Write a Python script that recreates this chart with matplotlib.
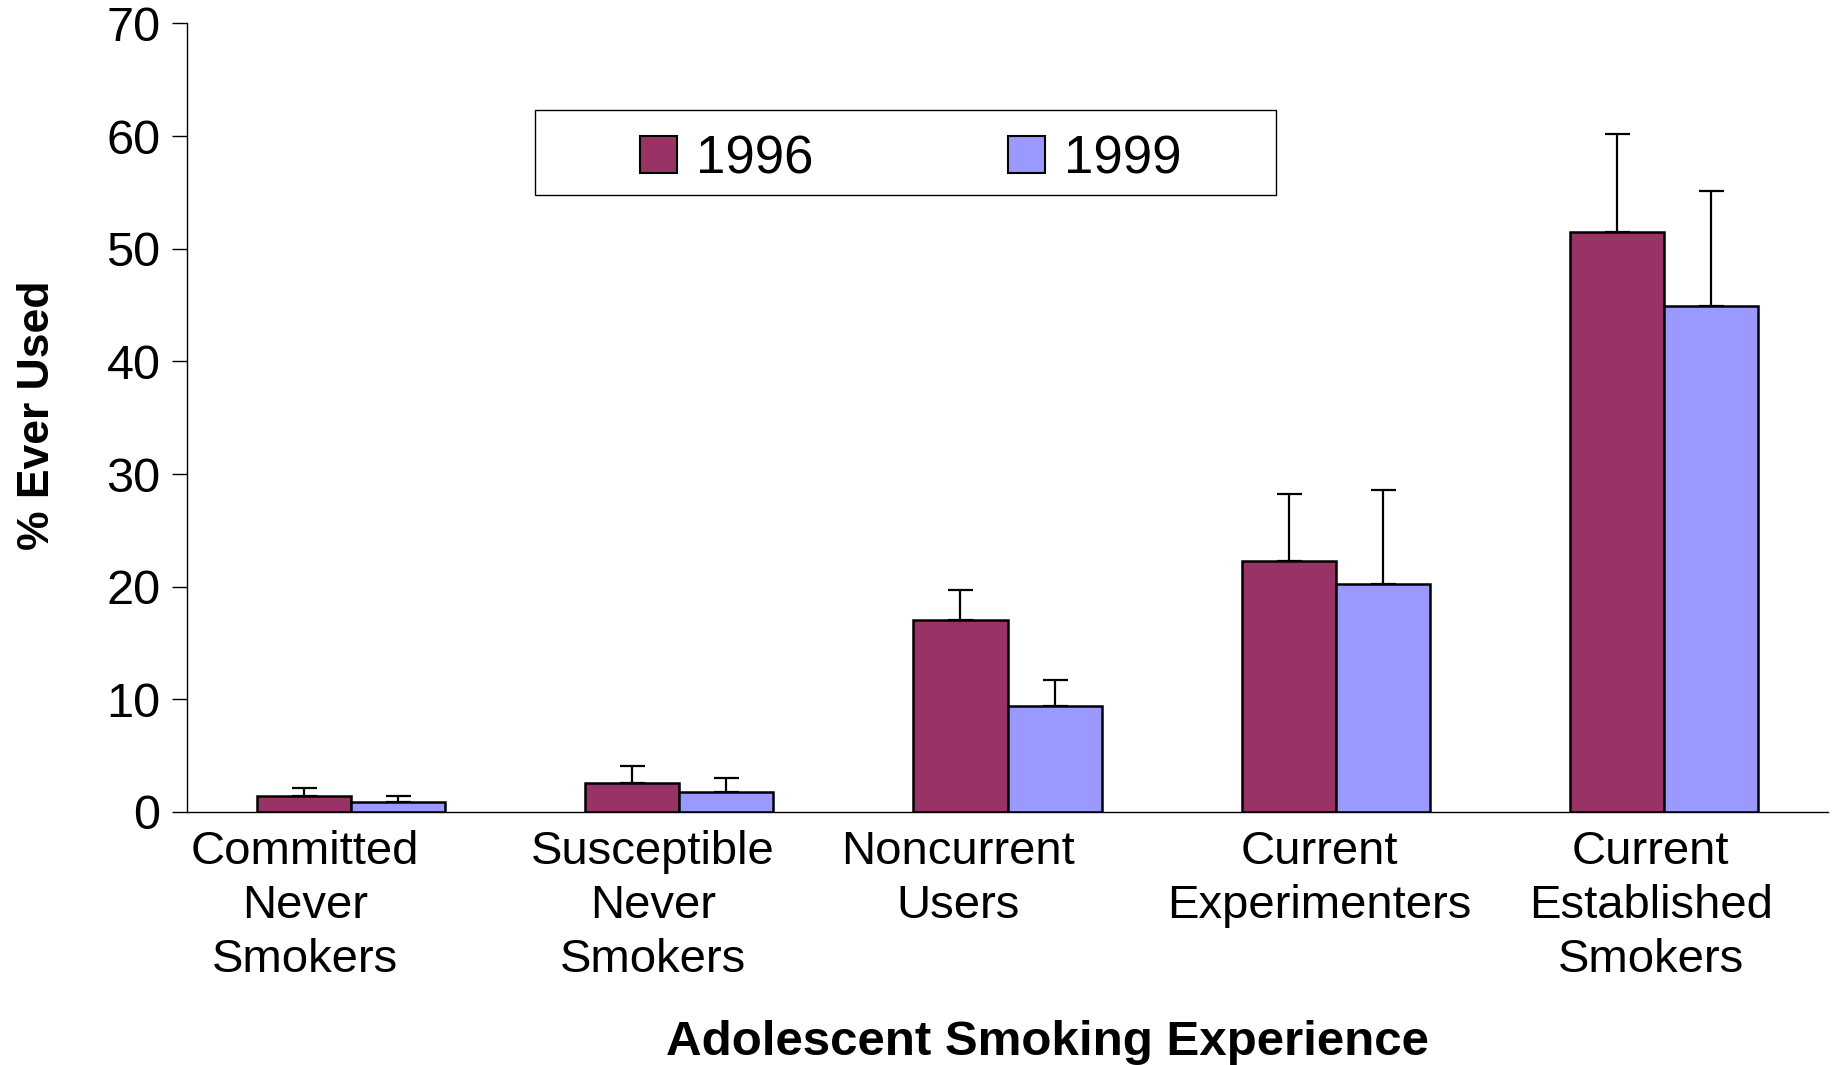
import numpy as np
import matplotlib
matplotlib.use("Agg")
import matplotlib.pyplot as plt
from matplotlib.patches import Patch, Rectangle

plt.rcParams['font.family'] = ['Liberation Sans', 'DejaVu Sans']

categories = ["Committed\nNever\nSmokers", "Susceptible\nNever\nSmokers",
              "Noncurrent\nUsers", "Current\nExperimenters",
              "Current\nEstablished\nSmokers"]
years = ["1996", "1999"]
pct_1996 = [1.4, 2.6, 17.0, 22.3, 51.5]
pct_1999 = [0.9, 1.75, 9.4, 20.2, 44.9]
err_1996 = [0.7, 1.45, 2.7, 5.9, 8.7]
err_1999 = [0.5, 1.25, 2.3, 8.4, 10.2]

colors = ['#993366', '#9999FF']
label_shift = [-0.14, -0.08, -0.15, -0.05, -0.04]   # labels sit a bit left of the groups

x = np.arange(len(categories))
w = 0.287

fig = plt.figure(figsize=(18.35, 10.65), dpi=100)
ax = fig.add_axes([0.1019, 0.2376, 0.8943, 0.7404])

for vals, errs, col, off, lab in [(pct_1996, err_1996, colors[0], -w/2, years[0]),
                                  (pct_1999, err_1999, colors[1], w/2, years[1])]:
    ax.bar(x + off, vals, width=w, color=col, edgecolor='black', linewidth=1.8, label=lab, zorder=2)
    ax.errorbar(x + off, vals, yerr=[np.zeros(len(vals)), errs], fmt='none',
                ecolor='black', elinewidth=1.6, capsize=9, capthick=1.6, zorder=1)

ax.set_xlim(-0.5, 4.5)
ax.set_ylim(0, 70)
ax.set_yticks(np.arange(0, 71, 10))
ax.tick_params(axis='y', labelsize=35, length=11, width=1.0, direction='out', pad=8)
ax.set_xticks(x + np.array(label_shift))
ax.set_xticklabels(categories, fontsize=34, linespacing=1.3)
ax.tick_params(axis='x', length=0, pad=13)
for s in ['top', 'right']:
    ax.spines[s].set_visible(False)
ax.spines['left'].set_linewidth(1.0)
ax.spines['bottom'].set_linewidth(1.0)

# legend box
ax.add_patch(Rectangle((0.212, 0.782), 0.4516, 0.108, transform=ax.transAxes,
                       facecolor='white', edgecolor='black', linewidth=1.0, zorder=3))
handles = [Patch(facecolor=c, edgecolor='black', linewidth=1.5) for c in colors]
leg = ax.legend(handles, years, loc='center', bbox_to_anchor=(0.441, 0.828),
                ncol=2, frameon=False, fontsize=38, handlelength=0.7, handleheight=0.7,
                handletextpad=0.35, columnspacing=3.7)
leg.set_zorder(4)

fig.text(0.5706, 0.0215, "Adolescent Smoking Experience", fontsize=35.5, fontweight='bold',
         ha='center', va='center')
fig.text(0.0205, 0.61, "% Ever Used", fontsize=32, fontweight='bold', rotation=90,
         ha='center', va='center')

fig.savefig("out.png", dpi=100)
